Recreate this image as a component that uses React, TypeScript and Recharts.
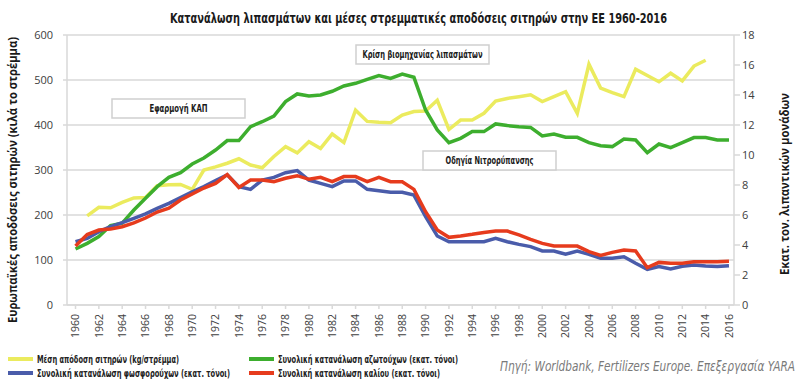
import { LineChart, Line, XAxis, YAxis, CartesianGrid } from "recharts";

// years shown on the category axis
const YEARS = [
  1960, 1961, 1962, 1963, 1964, 1965, 1966, 1967, 1968, 1969,
  1970, 1971, 1972, 1973, 1974, 1975, 1976, 1977, 1978, 1979,
  1980, 1981, 1982, 1983, 1984, 1985, 1986, 1987, 1988, 1989,
  1990, 1991, 1992, 1993, 1994, 1995, 1996, 1997, 1998, 1999,
  2000, 2001, 2002, 2003, 2004, 2005, 2006, 2007, 2008, 2009,
  2010, 2011, 2012, 2013, 2014, 2015, 2016,
];
const YEAR_TICKS = [
  1960, 1962, 1964, 1966, 1968, 1970, 1972, 1974, 1976, 1978, 1980, 1982, 1984, 1986, 1988,
  1990, 1992, 1994, 1996, 1998, 2000, 2002, 2004, 2006, 2008, 2010, 2012, 2014, 2016,
];
const LEFT_TICKS = [0, 100, 200, 300, 400, 500, 600];
const RIGHT_TICKS = [0, 2, 4, 6, 8, 10, 12, 14, 16, 18];

// cereal yield, kg per stremma (left axis)
const yieldKg = [
  null, 198, 217, 216, 228, 238, 239, 265, 267, 268,
  257, 300, 307, 315, 325, 311, 305, 330, 352, 338,
  363, 348, 380, 361, 433, 408, 406, 405, 422, 430,
  431, 455, 390, 411, 411, 426, 453, 459, 463, 467,
  452, 463, 474, 426, 535, 482, 472, 463, 524, 510,
  496, 515, 498, 531, 544, null, null,
];
// fertiliser consumption, million tonnes (right axis)
const nitrogenMt = [
  3.73, 4.11, 4.56, 5.3, 5.45, 6.33, 7.11, 7.89, 8.51, 8.82,
  9.4, 9.8, 10.33, 10.96, 10.96, 11.89, 12.22, 12.6, 13.56, 14.07,
  13.93, 14.0, 14.25, 14.6, 14.78, 15.04, 15.29, 15.11, 15.4, 15.18,
  13.0, 11.67, 10.82, 11.11, 11.56, 11.56, 12.07, 11.96, 11.89, 11.84,
  11.27, 11.4, 11.18, 11.18, 10.82, 10.62, 10.56, 11.07, 11.0, 10.16,
  10.73, 10.49, 10.82, 11.16, 11.16, 11.0, 11.0,
];
const phosphateMt = [
  4.22, 4.44, 4.89, 5.22, 5.49, 5.78, 6.07, 6.44, 6.78, 7.16,
  7.55, 7.9, 8.3, 8.68, 7.89, 7.71, 8.33, 8.51, 8.82, 8.96,
  8.33, 8.11, 7.89, 8.27, 8.27, 7.71, 7.62, 7.51, 7.51, 7.33,
  5.89, 4.6, 4.22, 4.22, 4.22, 4.22, 4.44, 4.22, 4.04, 3.89,
  3.6, 3.6, 3.38, 3.6, 3.38, 3.11, 3.11, 3.22, 2.78, 2.38,
  2.56, 2.4, 2.58, 2.67, 2.6, 2.56, 2.62,
];
const potashMt = [
  3.93, 4.7, 5.0, 5.07, 5.22, 5.47, 5.8, 6.2, 6.45, 7.0,
  7.4, 7.8, 8.1, 8.7, 7.84, 8.33, 8.33, 8.22, 8.45, 8.62,
  8.38, 8.51, 8.22, 8.56, 8.56, 8.22, 8.51, 8.22, 8.22, 7.71,
  6.22, 5.0, 4.51, 4.6, 4.71, 4.84, 4.93, 4.93, 4.67, 4.38,
  4.11, 3.93, 3.93, 3.93, 3.56, 3.3, 3.51, 3.67, 3.6, 2.49,
  2.84, 2.78, 2.78, 2.89, 2.89, 2.89, 2.91,
];

const data = YEARS.map((year, i) => ({
  year,
  yield: yieldKg[i],
  nitrogen: nitrogenMt[i],
  phosphate: phosphateMt[i],
  potash: potashMt[i],
}));

const YELLOW = "#ebeb5e";
const GREEN = "#3dae2e";
const BLUE = "#4a5caa";
const RED = "#e63b1d";
const GRID = "#d9d9d9";
const NARROW = "'DejaVu Sans Condensed', 'Liberation Sans', sans-serif";
const TICK_FONT = "'Open Sans', sans-serif";

// legend rows, two columns like the original
const legendItems = [
  { color: YELLOW, label: "Μέση απόδοση σιτηρών (kg/στρέμμα)", x: 8, y: 359, len: 142 },
  { color: GREEN, label: "Συνολική κατανάλωση αζωτούχων (εκατ. τόνοι)", x: 249, y: 359, len: 180 },
  { color: BLUE, label: "Συνολική κατανάλωση φωσφορούχων (εκατ. τόνοι)", x: 8, y: 373, len: 193 },
  { color: RED, label: "Συνολική κατανάλωση καλίου (εκατ. τόνοι)", x: 249, y: 373, len: 162 },
];

const notes = [
  { text: "Εφαρμογή ΚΑΠ", x: 112, y: 99, len: 58 },
  { text: "Κρίση βιομηχανίας λιπασμάτων", x: 356, y: 45, len: 120 },
  { text: "Οδηγία Νιτρορύπανσης", x: 423, y: 151, len: 88 },
];

const YearTick = (props: any) => {
  const { x, y, payload } = props;
  return (
    <text
      x={x}
      y={y}
      transform={`rotate(-90 ${x} ${y})`}
      textAnchor="end"
      dy="0.35em"
      fontSize={10.5}
      fontFamily={TICK_FONT}
      fill="#404040"
    >
      {payload.value}
    </text>
  );
};

export default function App() {
  return (
    <div style={{ position: "absolute", left: 0, top: 0, width: 800, height: 381, background: "#fff" }}>
      <LineChart
        width={800}
        height={381}
        data={data}
        margin={{ top: 35, right: 26, bottom: 36, left: 30 }}
      >
        <CartesianGrid yAxisId="left" vertical={false} stroke={GRID} strokeWidth={1.5} />
        <XAxis
          dataKey="year"
          type="number"
          domain={[1959.27, 2016.43]}
          ticks={YEAR_TICKS}
          interval={0}
          height={40}
          allowDataOverflow
          axisLine={{ stroke: GRID, strokeWidth: 1.5 }}
          tickLine={{ stroke: GRID, strokeWidth: 1.5 }}
          tickSize={4}
          tickMargin={5}
          tick={<YearTick />}
        />
        <YAxis
          yAxisId="left"
          width={37}
          domain={[0, 600]}
          ticks={LEFT_TICKS}
          axisLine={{ stroke: GRID, strokeWidth: 1.5 }}
          tickLine={{ stroke: GRID, strokeWidth: 1.5 }}
          tickSize={4}
          tickMargin={10}
          tick={{ fontSize: 11, fontFamily: TICK_FONT, fill: "#404040" }}
        />
        <YAxis
          yAxisId="right"
          orientation="right"
          width={40}
          domain={[0, 18]}
          ticks={RIGHT_TICKS}
          axisLine={{ stroke: GRID, strokeWidth: 1.5 }}
          tickLine={{ stroke: GRID, strokeWidth: 1.5 }}
          tickSize={6}
          tickMargin={2}
          tick={{ fontSize: 11, fontFamily: TICK_FONT, fill: "#404040" }}
        />
        <Line yAxisId="left" dataKey="yield" stroke={YELLOW} strokeWidth={3.5} dot={false} isAnimationActive={false} />
        <Line yAxisId="right" dataKey="nitrogen" stroke={GREEN} strokeWidth={3.5} dot={false} isAnimationActive={false} />
        <Line yAxisId="right" dataKey="phosphate" stroke={BLUE} strokeWidth={3.5} dot={false} isAnimationActive={false} />
        <Line yAxisId="right" dataKey="potash" stroke={RED} strokeWidth={3.5} dot={false} isAnimationActive={false} />

        <text
          x={170}
          y={23}
          textLength={497}
          lengthAdjust="spacingAndGlyphs"
          fontSize={14}
          fontWeight="bold"
          fontFamily={NARROW}
          fill="#1a1a1a"
        >
          Κατανάλωση λιπασμάτων και μέσες στρεμματικές αποδόσεις σιτηρών στην ΕΕ 1960-2016
        </text>

        {notes.map((n) => (
          <g key={n.text}>
            <rect x={n.x} y={n.y} width={133} height={19} fill="#fff" stroke="#cfcfcf" strokeWidth={1.5} />
            <text
              x={n.x + 66.5 - n.len / 2}
              y={n.y + 13}
              textLength={n.len}
              lengthAdjust="spacingAndGlyphs"
              fontSize={10}
              fontWeight="bold"
              fontFamily={NARROW}
              fill="#1a1a1a"
            >
              {n.text}
            </text>
          </g>
        ))}

        <text
          x={13}
          y={180}
          transform="rotate(-90 13 180)"
          textAnchor="middle"
          dy="0.35em"
          textLength={286}
          lengthAdjust="spacingAndGlyphs"
          fontSize={12}
          fontWeight="bold"
          fontFamily={TICK_FONT}
          fill="#1a1a1a"
        >
          Ευρωπαϊκές αποδόσεις σιτηρών (κιλά το στρέμμα)
        </text>
        <text
          x={785}
          y={184}
          transform="rotate(-90 785 184)"
          textAnchor="middle"
          dy="0.35em"
          textLength={182}
          lengthAdjust="spacingAndGlyphs"
          fontSize={12}
          fontWeight="bold"
          fontFamily={TICK_FONT}
          fill="#1a1a1a"
        >
          Εκατ. τον. λιπαντικών μονάδων
        </text>

        {legendItems.map((item) => (
          <g key={item.label}>
            <rect x={item.x} y={item.y - 2} width={25} height={4} fill={item.color} />
            <text
              x={item.x + 29}
              y={item.y}
              dy="0.35em"
              textLength={item.len}
              lengthAdjust="spacingAndGlyphs"
              fontSize={10.5}
              fontWeight="bold"
              fontFamily={NARROW}
              fill="#222"
            >
              {item.label}
            </text>
          </g>
        ))}

        <text
          x={500}
          y={366}
          dy="0.35em"
          textLength={295}
          lengthAdjust="spacingAndGlyphs"
          fontSize={14}
          fontStyle="italic"
          fontFamily={NARROW}
          fill="#7a7a7a"
        >
          Πηγή: Worldbank, Fertilizers Europe. Επεξεργασία YARA
        </text>
      </LineChart>
    </div>
  );
}
